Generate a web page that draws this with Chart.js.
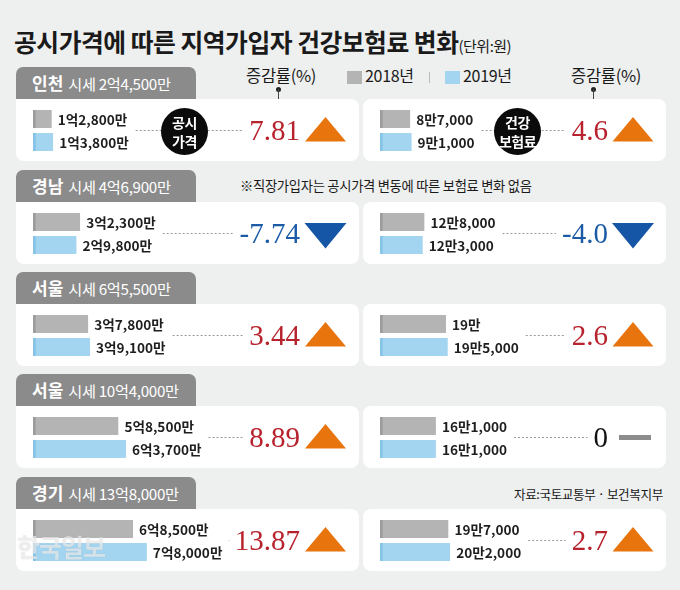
<!DOCTYPE html>
<html><head><meta charset="utf-8">
<script src="https://cdn.jsdelivr.net/npm/chart.js@4"></script>
<style>
html,body{margin:0;padding:0;}
body{width:680px;height:590px;background:#eeefef;position:relative;overflow:hidden;font-family:"Noto Sans CJK KR","Noto Sans",sans-serif;color:#1a1a1a;}
.abs{position:absolute;white-space:nowrap;}
#title{left:14px;top:23px;font-size:24.8px;font-weight:700;letter-spacing:-0.5px;line-height:36px;}
#title small{font-size:15px;font-weight:400;letter-spacing:-0.5px;}
.tab{position:absolute;left:16px;width:180px;height:32px;background:#8b8b8b;border-radius:7px 7px 0 0;color:#fff;line-height:32px;white-space:nowrap;padding-left:16px;box-sizing:border-box;}
.tab b{font-size:17px;font-weight:700;margin-right:5px;}
.tab span{font-size:15.2px;letter-spacing:-0.3px;}
.panel{position:absolute;background:#fff;height:62px;}
.pl{left:16px;width:343px;border-radius:0 8px 8px 8px;}
.pr{left:363px;width:303px;border-radius:8px;}
canvas{position:absolute;}
.lbl{font-size:16px;line-height:20px;letter-spacing:-0.3px;}
.dot{position:absolute;width:5px;height:5px;border-radius:50%;background:#222;}
.stem{position:absolute;width:1px;background:#444;}
.circ{position:absolute;width:47px;height:47px;border-radius:50%;background:#0b0b0b;color:#fff;font-size:14px;font-weight:700;line-height:19px;text-align:center;display:flex;flex-direction:column;justify-content:center;letter-spacing:-0.5px;}
</style></head>
<body>
<div id="title" class="abs">공시가격에 따른 지역가입자 건강보험료 변화<small>(단위:원)</small></div>

<div class="abs lbl" style="left:246px;top:65px;font-size:16.5px;">증감률(%)</div>
<div class="dot" style="left:276px;top:87px;"></div>
<div class="stem" style="left:278px;top:89px;height:26px;"></div>
<div class="abs" style="left:347px;top:71px;width:15px;height:13px;background:#b4b4b4;"></div>
<div class="abs lbl" style="left:365px;top:65px;">2018년</div>
<div class="abs" style="left:429px;top:72px;width:1px;height:11px;background:#bbb;"></div>
<div class="abs" style="left:445px;top:71px;width:15px;height:13px;background:#a3d4f0;"></div>
<div class="abs lbl" style="left:463px;top:65px;">2019년</div>
<div class="abs lbl" style="left:571px;top:65px;font-size:16.5px;">증감률(%)</div>
<div class="dot" style="left:591px;top:87px;"></div>
<div class="stem" style="left:593px;top:89px;height:26px;"></div>

<div class="abs" style="left:240px;top:176px;font-size:13.3px;line-height:20px;letter-spacing:-0.3px;">※직장가입자는 공시가격 변동에 따른 보험료 변화 없음</div>
<div class="abs" style="left:514px;top:484px;font-size:12.6px;line-height:20px;letter-spacing:-0.4px;">자료:국토교통부 · 보건복지부</div>

<div id="rows"></div>

<script>
// ---- data ----
const regions = ["인천", "경남", "서울", "서울", "경기"];
const marketPrices = ["2억4,500만", "4억6,900만", "6억5,500만", "10억4,000만", "13억8,000만"];
// 공시가격 (단위: 만원)
const price2018 = [12800, 32300, 37800, 58500, 68500];
const price2019 = [13800, 29800, 39100, 63700, 78000];
const priceChange = ["7.81", "-7.74", "3.44", "8.89", "13.87"];
// 건강보험료 (단위: 원)
const premium2018 = [87000, 128000, 190000, 161000, 197000];
const premium2019 = [91000, 123000, 195000, 161000, 202000];
const premiumChange = ["4.6", "-4.0", "2.6", "0", "2.7"];
const seriesNames = ["2018년", "2019년"];

// ---- layout ----
const panelTops = [99, 202, 304, 406, 509];
const GRAY = "#b4b4b4", BLUE = "#a3d4f0";

function fmtPrice(v) { // 만원 -> "1억2,800만"
  const eok = Math.floor(v / 10000), man = v % 10000;
  return (eok ? eok + "억" : "") + (man ? man.toLocaleString("en-US") : "") + "만";
}
function fmtWon(v) { // 원 -> "8만7,000"
  const man = Math.floor(v / 10000), rest = v % 10000;
  return man + "만" + (rest ? rest.toLocaleString("en-US") : "");
}

const panelPlugin = {
  id: "panelDeco",
  afterDatasetsDraw(chart, args, o) {
    const ctx = chart.ctx;
    const meta = chart.getDatasetMeta(0);
    ctx.save();
    ctx.font = 'bold 13.6px "Noto Sans CJK KR"';
    ctx.fillStyle = "#1e1e1e";
    ctx.textBaseline = "middle";
    ctx.textAlign = "left";
    let maxEnd = 0;
    meta.data.forEach((bar, i) => {
      const t = o.labels[i];
      const x = bar.x + 6;
      ctx.fillText(t, x, bar.y + 0.5);
      maxEnd = Math.max(maxEnd, x + ctx.measureText(t).width);
    });
    const num = o.change;
    const v = parseFloat(num);
    ctx.font = '29px "Liberation Serif"';
    const nw = ctx.measureText(num).width;
    ctx.fillStyle = v > 0 ? "#b7222d" : (v < 0 ? "#1b5ba6" : "#111");
    ctx.textAlign = "right";
    ctx.textBaseline = "alphabetic";
    ctx.fillText(num, o.numRight, 41);
    // dashed leader
    const midY = (meta.data[0].y + meta.data[1].y) / 2 - 0.5;
    ctx.setLineDash([2, 2]);
    ctx.strokeStyle = "#9a9a9a";
    ctx.lineWidth = 1;
    ctx.beginPath();
    ctx.moveTo(maxEnd + 7, Math.round(midY) + 0.5);
    ctx.lineTo(o.numRight - nw - 6, Math.round(midY) + 0.5);
    ctx.stroke();
    ctx.setLineDash([]);
    // marker
    const cx = o.triX;
    if (v > 0) {
      ctx.fillStyle = "#e8740e";
      ctx.beginPath(); ctx.moveTo(cx, 18); ctx.lineTo(cx + 20.5, 42.5); ctx.lineTo(cx - 20.5, 42.5); ctx.closePath(); ctx.fill();
    } else if (v < 0) {
      ctx.fillStyle = "#1656a6";
      ctx.beginPath(); ctx.moveTo(cx - 21, 21); ctx.lineTo(cx + 21, 21); ctx.lineTo(cx, 46.5); ctx.closePath(); ctx.fill();
    } else {
      ctx.fillStyle = "#8c8c8c";
      ctx.fillRect(cx - 14, 29, 32, 5);
    }
    ctx.restore();
  }
};

function makePanel(parent, left, top, w, values, labels, change, xMax, numRight, triX) {
  const c = document.createElement("canvas");
  c.width = w; c.height = 62;
  c.style.left = left + "px"; c.style.top = top + "px";
  c.style.width = w + "px"; c.style.height = "62px";
  parent.appendChild(c);
  new Chart(c, {
    type: "bar",
    data: {
      labels: seriesNames,
      datasets: [{
        data: values,
        backgroundColor: [GRAY, BLUE],
        borderColor: ["#9c9c9c", "#86c3e6"],
        borderWidth: { left: 3, right: 0, top: 0, bottom: 0 },
        borderSkipped: false,
        barThickness: 18
      }]
    },
    options: {
      indexAxis: "y",
      responsive: false,
      animation: false,
      devicePixelRatio: 1,
      events: [],
      layout: { padding: { left: 17, right: w - 217, top: 8.5, bottom: 7.5 } },
      scales: {
        x: { display: false, min: 0, max: xMax },
        y: { display: false }
      },
      plugins: {
        legend: { display: false },
        tooltip: { enabled: false },
        panelDeco: { labels, change, numRight, triX }
      }
    },
    plugins: [panelPlugin]
  });
}

const rows = document.getElementById("rows");
regions.forEach((r, i) => {
  const top = panelTops[i];
  const tab = document.createElement("div");
  tab.className = "tab";
  tab.style.top = (top - 32) + "px";
  tab.innerHTML = "<b>" + r + "</b><span>시세 " + marketPrices[i] + "</span>";
  rows.appendChild(tab);
  const pl = document.createElement("div");
  pl.className = "panel pl"; pl.style.top = top + "px"; rows.appendChild(pl);
  const pr = document.createElement("div");
  pr.className = "panel pr"; pr.style.top = top + "px"; rows.appendChild(pr);
  makePanel(rows, 16, top, 343, [price2018[i], price2019[i]],
    [fmtPrice(price2018[i]), fmtPrice(price2019[i])], priceChange[i], 137000, 284, 309.5);
  makePanel(rows, 363, top, 303, [premium2018[i], premium2019[i]],
    [fmtWon(premium2018[i]), fmtWon(premium2019[i])], premiumChange[i], 576000, 245, 270);
});
</script>
<div class="circ" style="left:161px;top:108px;"><div>공시</div><div>가격</div></div>
<div class="circ" style="left:494px;top:108px;"><div>건강</div><div>보험료</div></div>
<div class="abs" style="left:17px;top:528px;font-size:25px;font-weight:700;color:rgba(255,255,255,0.6);letter-spacing:-1px;text-shadow:0 0 1px rgba(120,120,120,0.35);">한국일보</div>
</body></html>
